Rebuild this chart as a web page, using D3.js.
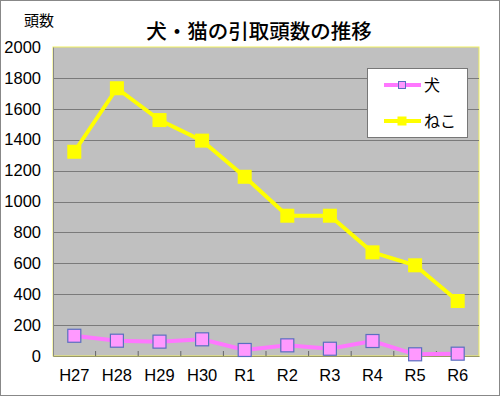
<!DOCTYPE html>
<html>
<head>
<meta charset="utf-8">
<script src="https://cdn.jsdelivr.net/npm/d3@7"></script>
<style>
  body { margin: 0; background: #fff; }
  text { font-family: "Liberation Sans", "Noto Sans CJK JP", sans-serif; }
</style>
</head>
<body>
<div id="chart"></div>
<script>
/* 犬・猫の引取頭数の推移 */

const years = ["H27", "H28", "H29", "H30", "R1", "R2", "R3", "R4", "R5", "R6"];
const dogs = [131, 99, 93, 108, 39, 69, 47, 97, 11, 15];
const cats = [1322, 1733, 1527, 1394, 1160, 908, 908, 671, 587, 356];
const yTicks = [0, 200, 400, 600, 800, 1000, 1200, 1400, 1600, 1800, 2000];

const width = 500,
      height = 396,
      margin = ({top: 47, right: 21, bottom: 40, left: 53});

let svg = d3.select("#chart")
    .append("svg")
    .attr("width", width)
    .attr("height", height);

// outer frame
svg.append("rect")
    .attr("x", 0.5).attr("y", 0.5)
    .attr("width", width - 1).attr("height", height - 1)
    .attr("fill", "#fff")
    .attr("stroke", "#888");

let x = d3.scaleBand()
    .domain(years)
    .range([margin.left, width - margin.right]);

let y = d3.scaleLinear()
    .domain([0, 2000])
    .range([height - margin.bottom, margin.top]);

// plot area
svg.append("rect")
    .attr("x", margin.left)
    .attr("y", margin.top)
    .attr("width", width - margin.left - margin.right)
    .attr("height", y(0) - margin.top)
    .attr("fill", "#c0c0c0")
    .attr("stroke", "#f0f060")
    .attr("stroke-width", 1);

// gridlines
svg.append("g")
    .selectAll("line")
    .data(yTicks.filter(d => d > 0 && d < 2000))
    .join("line")
    .attr("x1", margin.left)
    .attr("x2", width - margin.right)
    .attr("y1", d => Math.round(y(d)) + 0.5)
    .attr("y2", d => Math.round(y(d)) + 0.5)
    .attr("stroke", "#7a7a7a");

// y axis
let yAxis = svg.append("g")
    .attr("transform", `translate(${margin.left},0)`)
    .call(d3.axisLeft(y).tickValues(yTicks).tickFormat(d3.format("d")).tickSize(0).tickPadding(12));
yAxis.select(".domain").attr("stroke", "#888");
yAxis.selectAll("text")
    .attr("font-size", 16.5)
    .attr("fill", "#000");

// x axis
let xAxis = svg.append("g")
    .attr("transform", `translate(0,${y(0)})`)
    .call(d3.axisBottom(x).tickSize(0).tickPadding(13));
xAxis.select(".domain").attr("stroke", "#999966");
xAxis.selectAll("text")
    .attr("font-size", 16.5)
    .attr("fill", "#000");

// category boundary ticks
svg.append("g")
    .selectAll("line")
    .data(years.slice(1))
    .join("line")
    .attr("x1", d => x(d))
    .attr("x2", d => x(d))
    .attr("y1", y(0))
    .attr("y2", y(0) - 5)
    .attr("stroke", "#666");

let line = d3.line()
    .x((d, i) => x(years[i]) + x.bandwidth() / 2)
    .y(d => y(d));

// cats series
svg.append("path")
    .datum(cats)
    .attr("fill", "none")
    .attr("stroke", "#ffff00")
    .attr("stroke-width", 4)
    .attr("d", line);

svg.append("g")
    .selectAll("rect")
    .data(cats)
    .join("rect")
    .attr("x", (d, i) => x(years[i]) + x.bandwidth() / 2 - 7)
    .attr("y", d => y(d) - 7)
    .attr("width", 14)
    .attr("height", 14)
    .attr("fill", "#ffff00");

// dogs series
svg.append("path")
    .datum(dogs)
    .attr("fill", "none")
    .attr("stroke", "#ff77ff")
    .attr("stroke-width", 4)
    .attr("d", line);

svg.append("g")
    .selectAll("rect")
    .data(dogs)
    .join("rect")
    .attr("x", (d, i) => x(years[i]) + x.bandwidth() / 2 - 6.5)
    .attr("y", d => y(d) - 6.5)
    .attr("width", 13)
    .attr("height", 13)
    .attr("fill", "#ff99ff")
    .attr("stroke", "#5a6fc0")
    .attr("stroke-width", 1.2);

// title
svg.append("text")
    .attr("x", 259)
    .attr("y", 39)
    .attr("text-anchor", "middle")
    .attr("font-size", 20.5)
    .attr("font-weight", 500)
    .style("font-family", "'Noto Sans CJK JP', sans-serif")
    .text("犬・猫の引取頭数の推移");

svg.append("text")
    .attr("x", 39)
    .attr("y", 26)
    .attr("text-anchor", "middle")
    .attr("font-size", 15)
    .style("font-family", "'Noto Sans CJK JP', sans-serif")
    .text("頭数");

// legend
let legend = svg.append("g")
    .attr("transform", "translate(367,68)");

legend.append("rect")
    .attr("x", 0.5).attr("y", 0.5)
    .attr("width", 100).attr("height", 69)
    .attr("fill", "#fff")
    .attr("stroke", "#777");

let legendItems = [
    {name: "犬", stroke: "#ff77ff", fill: "#ff99ff", border: "#5a6fc0", size: 7},
    {name: "ねこ", stroke: "#ffff00", fill: "#ffff00", border: "none", size: 9}
];

let item = legend.selectAll(".item")
    .data(legendItems)
    .join("g")
    .attr("class", "item")
    .attr("transform", (d, i) => `translate(0,${17 + i * 36})`);

item.append("line")
    .attr("x1", 17).attr("x2", 54)
    .attr("stroke", d => d.stroke)
    .attr("stroke-width", 4);

item.append("rect")
    .attr("x", d => 35 - d.size / 2)
    .attr("y", d => -d.size / 2)
    .attr("width", d => d.size)
    .attr("height", d => d.size)
    .attr("fill", d => d.fill)
    .attr("stroke", d => d.border);

item.append("text")
    .attr("x", 57)
    .attr("y", 6)
    .attr("font-size", 16)
    .style("font-family", "'Noto Sans CJK JP', sans-serif")
    .text(d => d.name);
</script>
</body>
</html>
